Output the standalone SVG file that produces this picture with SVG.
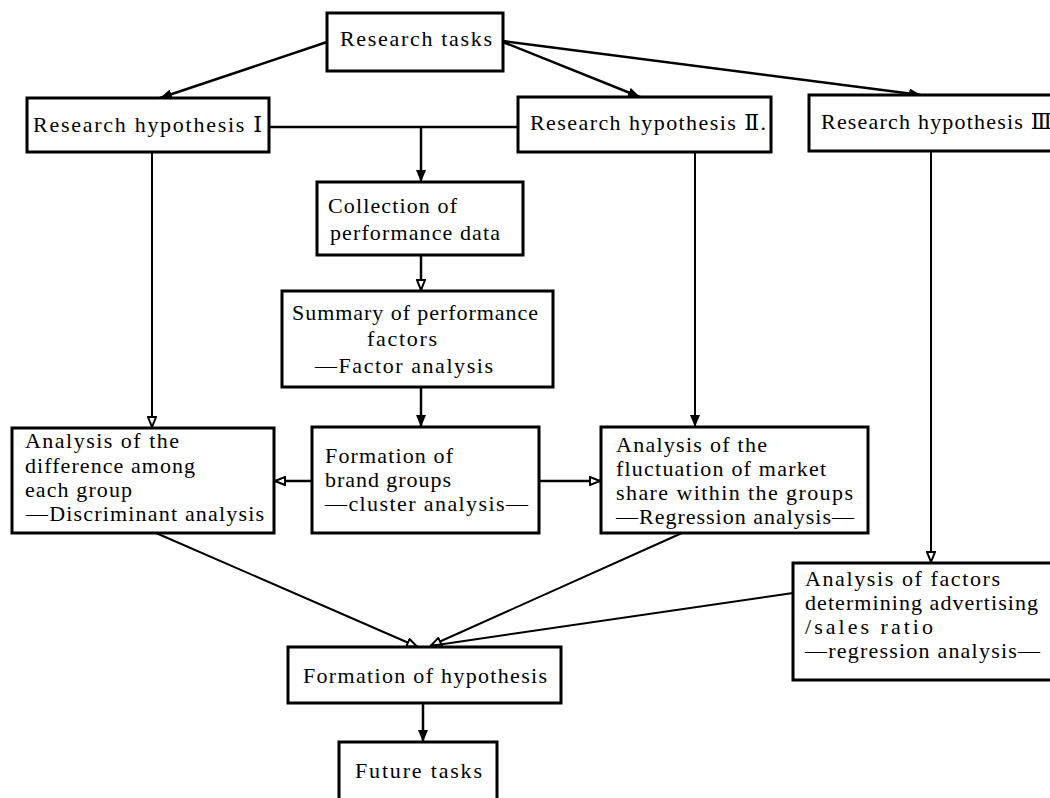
<svg xmlns="http://www.w3.org/2000/svg" width="1050" height="798" viewBox="0 0 1050 798">
<style>
.box{fill:#fff;stroke:#000;stroke-width:3}
.t{font-family:"Liberation Serif","DejaVu Serif","Noto Sans CJK JP",serif;font-size:22px;fill:#000}
.c{fill:none;stroke:#000;stroke-width:2.5}
.c2{fill:none;stroke:#000;stroke-width:2}
</style>
<defs>
<marker id="a" markerUnits="userSpaceOnUse" markerWidth="12" markerHeight="10" refX="12" refY="5" orient="auto"><path d="M0,0 L12,5 L0,10 z" fill="#000"/></marker>
<marker id="o" markerUnits="userSpaceOnUse" markerWidth="12" markerHeight="10" refX="12" refY="5" orient="auto"><path d="M1,1 L11,5 L1,9 z" fill="#fff" stroke="#000" stroke-width="2"/></marker>
</defs>
<rect width="1050" height="798" fill="#fff"/>
<g id="connectors">
<line class="c" x1="327" y1="42" x2="160" y2="98" marker-end="url(#a)"/>
<line class="c" x1="503" y1="42" x2="640" y2="97" marker-end="url(#a)"/>
<line class="c" x1="503" y1="41" x2="921" y2="95" marker-end="url(#a)"/>
<line class="c" x1="269" y1="127" x2="518" y2="127"/>
<line class="c" x1="421" y1="127" x2="421" y2="182" marker-end="url(#a)"/>
<line class="c" x1="421" y1="255" x2="421" y2="291" marker-end="url(#o)"/>
<line class="c" x1="421" y1="387" x2="421" y2="427" marker-end="url(#a)"/>
<line class="c2" x1="152" y1="152" x2="152" y2="428" marker-end="url(#o)"/>
<line class="c2" x1="695" y1="152" x2="695" y2="427" marker-end="url(#a)"/>
<line class="c2" x1="931" y1="151" x2="931" y2="563" marker-end="url(#o)"/>
<line class="c" x1="312" y1="481" x2="274" y2="481" marker-end="url(#o)"/>
<line class="c" x1="539" y1="481" x2="601" y2="481" marker-end="url(#o)"/>
<line class="c2" x1="156" y1="533" x2="418" y2="647" marker-end="url(#o)"/>
<line class="c2" x1="682" y1="533" x2="430" y2="646" marker-end="url(#o)"/>
<line class="c2" x1="793" y1="593" x2="430" y2="646"/>
<line class="c" x1="423" y1="703" x2="423" y2="742" marker-end="url(#a)"/>
</g>
<g id="research-tasks"><rect class="box" x="327" y="13" width="176" height="58"/><text class="t" x="340" y="46" textLength="152">Research tasks</text></g>
<g id="hypothesis-1"><rect class="box" x="27" y="98" width="242" height="54"/><text class="t" x="33" y="132" textLength="229">Research hypothesis Ⅰ</text></g>
<g id="hypothesis-2"><rect class="box" x="518" y="97" width="253" height="55"/><text class="t" x="530" y="130" textLength="236">Research hypothesis Ⅱ.</text></g>
<g id="hypothesis-3"><rect class="box" x="809" y="95" width="250" height="56"/><text class="t" x="821" y="129" textLength="231">Research hypothesis Ⅲ</text></g>
<g id="collection"><rect class="box" x="317" y="182" width="206" height="73"/><text class="t" x="328" y="213" textLength="129">Collection of</text><text class="t" x="330" y="240" textLength="170">performance data</text></g>
<g id="summary"><rect class="box" x="282" y="291" width="271" height="96"/><text class="t" x="292" y="320" textLength="246">Summary of performance</text><text class="t" x="367" y="346" textLength="70">factors</text><text class="t" x="315" y="373" textLength="178">—Factor analysis</text></g>
<g id="difference"><rect class="box" x="12" y="428" width="262" height="105"/><text class="t" x="25" y="448" textLength="154">Analysis of the</text><text class="t" x="25" y="473" textLength="170">difference among</text><text class="t" x="25" y="497" textLength="107">each group</text><text class="t" x="26" y="521" textLength="238">—Discriminant analysis</text></g>
<g id="brand-groups"><rect class="box" x="312" y="427" width="227" height="106"/><text class="t" x="325" y="463" textLength="128">Formation of</text><text class="t" x="325" y="487" textLength="126">brand groups</text><text class="t" x="325" y="511" textLength="203">—cluster analysis—</text></g>
<g id="fluctuation"><rect class="box" x="601" y="427" width="267" height="106"/><text class="t" x="616" y="452" textLength="151">Analysis of the</text><text class="t" x="616" y="476" textLength="210">fluctuation of market</text><text class="t" x="616" y="500" textLength="237">share within the groups</text><text class="t" x="616" y="524" textLength="238">—Regression analysis—</text></g>
<g id="advertising"><rect class="box" x="793" y="563" width="266" height="117"/><text class="t" x="805" y="586" textLength="195">Analysis of factors</text><text class="t" x="805" y="610" textLength="233">determining advertising</text><text class="t" x="805" y="634" textLength="128">/sales ratio</text><text class="t" x="805" y="658" textLength="235">—regression analysis—</text></g>
<g id="formation-hypothesis"><rect class="box" x="288" y="647" width="273" height="56"/><text class="t" x="303" y="683" textLength="244">Formation of hypothesis</text></g>
<g id="future-tasks"><rect class="box" x="339" y="742" width="158" height="70"/><text class="t" x="355" y="778" textLength="127">Future tasks</text></g>
</svg>
